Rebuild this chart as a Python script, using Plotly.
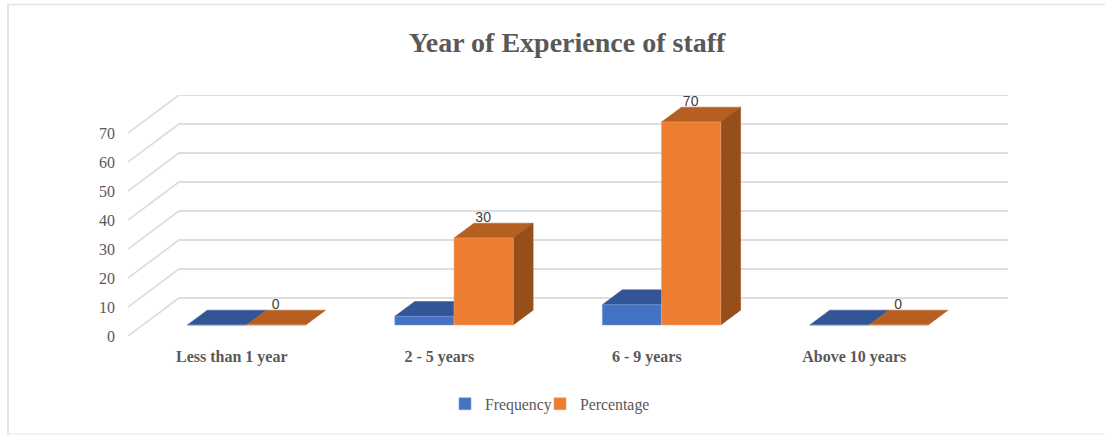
import plotly.graph_objects as go

# ---- data ----
categories = ["Less than 1 year", "2 - 5 years", "6 - 9 years", "Above 10 years"]
frequency = [0, 3, 7, 0]
percentage = [0, 30, 70, 0]
y_ticks = [0, 10, 20, 30, 40, 50, 60, 70]
title_text = "Year of Experience of staff"

# ---- styling / geometry ----
W, H = 1105, 435
L, R, T, B = 128, 1008, 95, 336
SERIF = "Liberation Serif"
GREY = "#595959"
BLUE, BLUE_TOP = "#4472C4", "#325595"
ORANGE, ORANGE_TOP, ORANGE_SIDE = "#ED7D31", "#B55F22", "#964F1B"
GRID = "#DEDEDE"

PX_PER_CAT = 207.5
PX_PER_VAL = 2.9
WALL_DX = 51 / PX_PER_CAT      # full floor depth, x units
WALL_DY = 38 / PX_PER_VAL      # full floor depth, y units
BAR_FRONT = 0.29               # fraction of floor depth where bars stand
BAR_DEPTH = 0.39               # depth of a bar as a fraction of the floor
BAR_W = 59.2 / PX_PER_CAT
GAP = 1 - 2 * BAR_W

xs = list(range(len(categories)))
shift = BAR_FRONT * WALL_DX
floor = BAR_FRONT * WALL_DY
ddx = BAR_DEPTH * WALL_DX
ddy = BAR_DEPTH * WALL_DY

xmin = -0.5
xmax = xmin + (R - L) / PX_PER_CAT
ymax = (B - T) / PX_PER_VAL


def poly(points):
    return "M " + " L ".join(f"{x:.5f},{y:.5f}" for x, y in points) + " Z"


shapes = []
# gridlines: side wall then back wall
for v in y_ticks:
    shapes.append(dict(
        type="path", xref="x", yref="y", layer="below",
        path=f"M {xmin},{v} L {xmin + WALL_DX},{v + WALL_DY} L {xmax},{v + WALL_DY}",
        line=dict(color=GRID, width=1.8),
    ))


def faces(left, value, top_color, side_color=None):
    y0, y1 = floor, floor + value
    right = left + BAR_W
    out = [dict(
        type="path", xref="x", yref="y", layer="below",
        path=poly([(left, y1), (right, y1), (right + ddx, y1 + ddy), (left + ddx, y1 + ddy)]),
        fillcolor=top_color, line=dict(color=top_color, width=0.5),
    )]
    if side_color and value > 0:
        out.append(dict(
            type="path", xref="x", yref="y", layer="below",
            path=poly([(right, y0), (right, y1), (right + ddx, y1 + ddy), (right + ddx, y0 + ddy)]),
            fillcolor=side_color, line=dict(color=side_color, width=0.5),
        ))
    return out


for x, f, p in zip(xs, frequency, percentage):
    c = x + shift
    shapes += faces(c - BAR_W, f, BLUE_TOP)
    shapes += faces(c, p, ORANGE_TOP, ORANGE_SIDE)

# outer frame
def px(v):
    return (v - L) / (R - L)


def py(v):
    return (B - v) / (B - T)


FRAME = "#E4E4E4"
shapes += [
    dict(type="line", xref="paper", yref="paper", x0=px(8), x1=px(8), y0=py(4), y1=py(435),
         line=dict(color=FRAME, width=2)),
    dict(type="line", xref="paper", yref="paper", x0=px(8), x1=px(1105), y0=py(4.5), y1=py(4.5),
         line=dict(color=FRAME, width=1.5)),
    dict(type="line", xref="paper", yref="paper", x0=px(8), x1=px(1105), y0=py(434), y1=py(434),
         line=dict(color="#EEEEEE", width=1.5)),
]

fig = go.Figure()
bar_x = [x + shift for x in xs]
fig.add_bar(name="Frequency", x=bar_x, y=frequency, base=floor, legend="legend",
            marker=dict(color=BLUE, line=dict(color="#7E9BD6", width=0.6)))
fig.add_bar(name="Percentage", x=bar_x, y=percentage, base=floor, legend="legend2",
            marker=dict(color=ORANGE, line=dict(color="#F2A26E", width=0.6)))
fig.add_scatter(
    x=[x + BAR_W / 2 - 0.5 / PX_PER_CAT for x in bar_x],
    y=[p + floor + ddy + 4.5 / PX_PER_VAL for p in percentage],
    text=[str(p) for p in percentage],
    mode="text", textposition="middle center",
    textfont=dict(family="Liberation Sans", size=14, color="#404040"),
    showlegend=False, hoverinfo="skip", cliponaxis=False,
)

legend_common = dict(orientation="h", xanchor="left", y=py(404), yanchor="middle",
                     bgcolor="rgba(0,0,0,0)",
                     font=dict(family=SERIF, size=15.8, color=GREY))

fig.update_layout(
    width=W, height=H, autosize=False,
    margin=dict(l=L, r=W - R, t=T, b=H - B, pad=0),
    paper_bgcolor="white", plot_bgcolor="rgba(0,0,0,0)",
    barmode="group", bargap=GAP, bargroupgap=0,
    shapes=shapes,
    title=dict(text=f"<b>{title_text}</b>", x=567 / W, xanchor="center",
               y=1 - 42 / H, yanchor="middle",
               font=dict(family=SERIF, size=28, color=GREY)),
    xaxis=dict(range=[xmin, xmax], tickmode="array", tickvals=xs,
               ticktext=[f"<b>{c}</b>" for c in categories],
               showgrid=False, zeroline=False, showline=False, ticks="",
               tickangle=0, ticklabelstandoff=9,
               tickfont=dict(family=SERIF, size=16, color=GREY)),
    yaxis=dict(range=[0, ymax], tickmode="array", tickvals=y_ticks,
               showgrid=False, zeroline=False, showline=False, ticks="",
               ticklabelstandoff=12,
               tickfont=dict(family=SERIF, size=16, color=GREY)),
    legend=dict(x=px(445), **legend_common),
    legend2=dict(x=px(540), **legend_common),
    hovermode=False,
)

fig.write_html("out.html", config={"displayModeBar": False},
               post_script="document.body.style.margin='0';document.documentElement.style.overflow='hidden';")
